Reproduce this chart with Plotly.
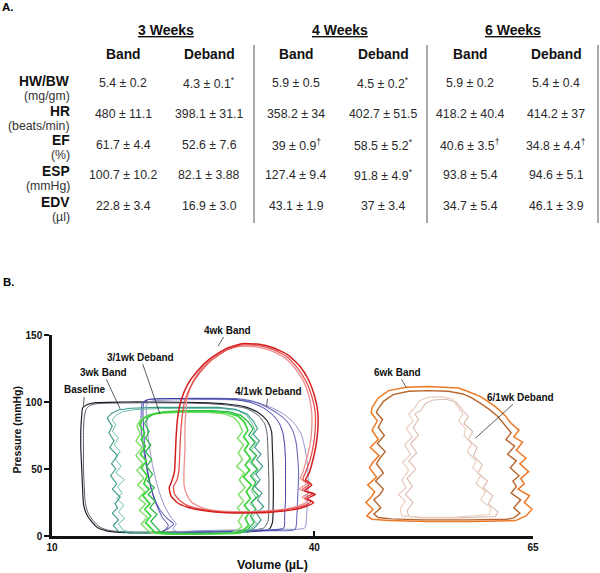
import plotly.graph_objects as go

# ---------------- Panel A: table values ----------------
periods = ["3 Weeks", "4 Weeks", "6 Weeks"]
groups = ["Band", "Deband"]
row_names = ["HW/BW", "HR", "EF", "ESP", "EDV"]
row_units = ["(mg/gm)", "(beats/min)", "(%)", "(mmHg)", "(µl)"]

band_3wk = ["5.4 ± 0.2", "480 ± 11.1", "61.7 ± 4.4", "100.7 ± 10.2", "22.8 ± 3.4"]
deband_3wk = ["4.3 ± 0.1", "398.1 ± 31.1", "52.6 ± 7.6", "82.1 ± 3.88", "16.9 ± 3.0"]
band_4wk = ["5.9 ± 0.5", "358.2 ± 34", "39 ± 0.9", "127.4 ± 9.4", "43.1 ± 1.9"]
deband_4wk = ["4.5 ± 0.2", "402.7 ± 51.5", "58.5 ± 5.2", "91.8 ± 4.9", "37 ± 3.4"]
band_6wk = ["5.9 ± 0.2", "418.2 ± 40.4", "40.6 ± 3.5", "93.8 ± 5.4", "34.7 ± 5.4"]
deband_6wk = ["5.4 ± 0.4", "414.2 ± 37", "34.8 ± 4.4", "94.6 ± 5.1", "46.1 ± 3.9"]

marks_band_3wk = ["", "", "", "", ""]
marks_deband_3wk = ["*", "", "", "", ""]
marks_band_4wk = ["", "", "†", "", ""]
marks_deband_4wk = ["*", "", "*", "*", ""]
marks_band_6wk = ["", "", "†", "", ""]
marks_deband_6wk = ["", "", "†", "", ""]

# ---------------- Panel B: pressure-volume loops, (volume µL, pressure mmHg) ----------------
baseline_c1 = [(15.0, 99.5), (18.0, 100), (22.0, 100), (27.0, 99.5), (30.0, 98.5), (32.0, 96.5), (33.6, 92), (34.6, 86), (35.1, 78), (35.2, 65), (35.3, 45), (35.3, 25), (35.2, 10), (34.8, 5), (33.0, 3.5), (30.0, 3), (26.0, 2.5), (22.0, 2.3), (18.5, 2.5), (16.5, 3.5), (15.3, 6), (14.5, 11), (13.9, 17), (13.6, 24), (13.5, 35), (13.4, 50), (13.3, 65), (13.3, 80), (13.4, 90), (13.5, 95.5), (14.0, 98), (15.0, 99.5)]
baseline_c2 = [(15.2, 98.8), (18.0, 99.3), (22.0, 99.4), (27.0, 99.0), (30.0, 97.8), (32.2, 95.2), (33.5, 90.5), (34.3, 84), (34.6, 76), (34.7, 62), (34.8, 42), (34.8, 24), (34.7, 11), (34.2, 6), (32.5, 4.2), (29.0, 3.5), (25.0, 3.2), (21.0, 3.0), (18.0, 3.2), (16.5, 4.2), (15.5, 6.5), (14.7, 11.5), (14.1, 17.5), (13.8, 25), (13.7, 36), (13.6, 50), (13.6, 65), (13.6, 80), (13.7, 89), (13.9, 94.5), (14.3, 97.3), (15.2, 98.8)]

band3_c1 = [(16.3, 88), (16.8, 91.5), (17.6, 94), (19.0, 95.3), (22.0, 96), (26.0, 96.3), (29.0, 96), (31.0, 94.5), (32.3, 91), (33.0, 86),
            (33.5, 80), (33.0, 76), (33.7, 71), (33.2, 66), (33.9, 61), (33.4, 57), (34.1, 52), (33.3, 46), (33.8, 42), (33.2, 37), (34.0, 32), (33.5, 27), (34.2, 22), (33.4, 17), (33.9, 12), (33.3, 7), (32.5, 3),
            (28.0, 1.8), (23.0, 1.8), (19.0, 2.2), (17.6, 3.5),
            (17.0, 8), (17.6, 12), (16.9, 17), (17.5, 21), (17.2, 24), (17.8, 29), (16.9, 35), (17.4, 39), (16.7, 45), (17.3, 50), (16.8, 54), (17.5, 60), (16.6, 66), (17.1, 71), (16.5, 77), (16.9, 82), (16.3, 88)]
band3_c2 = [(16.9, 86.5), (17.3, 90), (18.1, 92.8), (19.5, 94.3), (22.5, 95.2), (26.5, 95.5), (29.3, 95.2), (31.2, 93.8), (32.2, 90.5), (32.8, 85),
            (33.2, 79), (32.7, 74), (33.4, 70), (32.8, 64), (33.3, 60), (32.6, 55), (33.5, 49), (32.9, 44), (33.6, 40), (32.8, 34), (33.3, 29), (32.6, 24), (33.5, 19), (32.9, 14), (33.4, 9), (32.6, 5), (32.0, 3),
            (28.0, 2.2), (23.5, 2.0), (19.5, 2.5), (18.2, 4),
            (17.6, 9), (18.3, 13), (17.6, 18), (18.2, 23), (17.4, 28), (18.0, 32), (17.5, 37), (18.3, 42), (17.3, 47), (17.9, 52), (17.2, 58), (17.8, 63), (17.1, 68), (17.6, 73), (16.9, 78), (17.3, 83), (16.9, 86.5)]

deband3_c1 = [(20.0, 83), (20.4, 87.5), (21.2, 90.5), (22.6, 92.2), (25.0, 93), (28.0, 93), (30.0, 92), (31.3, 89.5), (32.0, 85), (32.4, 79),
              (31.9, 74), (32.5, 69), (32.0, 64), (32.7, 58), (32.1, 53), (32.6, 49), (31.9, 44), (32.8, 38), (32.2, 33), (32.7, 28), (32.0, 23), (32.6, 18), (32.1, 13), (32.5, 8), (31.8, 4), (31.0, 2),
              (27.0, 1.5), (23.5, 1.5), (21.8, 2.5),
              (21.3, 6), (20.7, 10), (21.3, 15), (20.6, 20), (21.2, 24), (20.4, 30), (21.1, 35), (20.5, 39), (20.9, 45), (20.2, 51), (20.8, 56), (20.1, 61), (20.7, 67), (20.2, 72), (20.6, 77), (20.0, 83)]
deband3_c2 = [(19.7, 82), (20.1, 86.5), (20.9, 89.8), (22.3, 91.6), (24.8, 92.4), (27.8, 92.4), (29.6, 91.3), (30.8, 88.5), (31.4, 84), (31.8, 78),
              (31.2, 73), (31.9, 68), (31.3, 62), (31.8, 57), (31.1, 52), (32.0, 47), (31.4, 42), (32.1, 36), (31.3, 31), (31.9, 26), (31.2, 21), (31.8, 16), (31.3, 11), (31.7, 7), (31.0, 3.5), (30.4, 2),
              (27.0, 1.3), (23.0, 1.3), (21.4, 2.2),
              (20.8, 5), (20.2, 9), (20.9, 14), (20.0, 19), (20.7, 24), (19.9, 28), (20.6, 33), (19.8, 38), (20.5, 43), (19.7, 49), (20.4, 54), (19.6, 60), (20.3, 66), (19.6, 71), (20.1, 76), (19.7, 82)]
deband3_c3 = [(20.6, 84), (21.0, 88.5), (21.7, 91.3), (23.0, 92.8), (25.3, 93.6), (28.3, 93.6), (30.3, 92.6), (31.6, 90), (32.4, 85.5), (33.0, 80),
              (32.5, 75), (33.2, 70), (32.6, 65), (33.4, 60), (32.8, 55), (33.5, 50), (32.7, 45), (33.3, 40), (32.9, 35), (33.6, 30), (32.8, 25), (33.3, 20), (32.7, 15), (33.1, 10), (32.4, 5), (31.5, 2.2),
              (27.5, 1.8), (24.0, 1.8), (22.4, 3),
              (21.9, 7), (21.3, 11), (22.0, 16), (21.2, 21), (21.8, 26), (21.0, 31), (21.7, 36), (20.9, 41), (21.5, 46), (20.8, 52), (21.4, 57), (20.7, 63), (21.3, 68), (20.7, 73), (21.1, 78), (20.6, 84)]

deband4_c1 = [(20.3, 99), (20.8, 101.5), (23.0, 102.5), (26.0, 102.8), (29.0, 102.8), (31.0, 102.5), (33.0, 100.5), (34.5, 96.5), (35.8, 91.5), (36.8, 86), (37.5, 79), (37.9, 70), (38.1, 58), (38.2, 45), (38.1, 30), (38.0, 15), (37.8, 5), (35.0, 4), (30.0, 3.5), (26.0, 3), (23.5, 2.5), (22.6, 3), (23.4, 6), (23.9, 9), (23.2, 13), (22.3, 20), (21.6, 30), (21.1, 42), (20.7, 55), (20.4, 68), (20.2, 80), (20.2, 92), (20.3, 99)]
deband4_c2 = [(20.8, 98), (21.3, 100.5), (23.5, 101.5), (26.5, 101.8), (29.5, 101.8), (31.5, 101.3), (33.5, 99.5), (35.2, 95.5), (36.6, 90.5), (37.7, 84), (38.5, 76), (38.9, 66), (39.2, 54), (39.3, 40), (39.2, 26), (39.1, 14), (38.9, 6), (36.0, 5), (31.0, 4.5), (27.0, 4), (24.3, 3.5), (23.8, 5), (24.2, 9), (23.6, 14), (22.9, 22), (22.3, 32), (21.8, 44), (21.4, 56), (21.1, 68), (20.9, 80), (20.8, 92), (20.8, 98)]
deband4_c3 = [(20.5, 99.5), (21.0, 101.8), (23.0, 102.5), (26.0, 102.5), (29.0, 102.3), (31.0, 101.8), (32.8, 99.5), (34.2, 95.5), (35.3, 90), (36.0, 84), (36.4, 77), (36.6, 68), (36.7, 56), (36.7, 42), (36.7, 28), (36.6, 15), (36.5, 6), (34.0, 4), (30.0, 3), (26.0, 2.5), (23.0, 2), (22.4, 2.5), (23.0, 5), (23.3, 8), (22.6, 14), (21.9, 24), (21.3, 36), (20.9, 50), (20.6, 64), (20.5, 78), (20.4, 91), (20.5, 99.5)]

band4_c1 = [(31.7, 143.5), (33.5, 143.2), (35.3, 140.5), (37.0, 135), (38.3, 127), (39.3, 117), (40.0, 105), (40.4, 92), (40.4, 80), (40.2, 68), (39.8, 56), (39.4, 47), (39.0, 42), (39.7, 38), (38.9, 34), (40.1, 31), (39.2, 28), (39.9, 25), (39.0, 22), (37.5, 19.5), (35.0, 17.8), (32.0, 17.2), (29.5, 17.5), (27.3, 19), (25.5, 21.5), (24.3, 25), (23.6, 30), (23.4, 36), (23.7, 41), (24.0, 48), (24.1, 60), (24.2, 75), (24.4, 90), (24.8, 102), (25.5, 113), (26.6, 123), (28.0, 132), (29.8, 139.5), (31.7, 143.5)]
band4_c2 = [(31.5, 141.5), (33.3, 141.2), (35.0, 138.5), (36.6, 133), (37.8, 125), (38.8, 115), (39.4, 104), (39.7, 92), (39.7, 80), (39.5, 68), (39.1, 57), (38.7, 48), (38.4, 43), (39.1, 39), (38.3, 35), (39.4, 32), (38.6, 29), (39.2, 26), (38.4, 23), (37.0, 20.5), (34.5, 18.8), (31.5, 18.2), (29.0, 18.8), (27.2, 21), (26.0, 25), (25.4, 31), (25.1, 38), (25.1, 50), (25.2, 65), (25.2, 80), (25.3, 93), (25.5, 104), (26.1, 115), (27.1, 125), (28.4, 133), (30.0, 139), (31.5, 141.5)]
band4_c3 = [(31.6, 142.5), (33.4, 142.2), (35.2, 139.5), (36.8, 134), (38.0, 126), (39.0, 116), (39.7, 104.5), (40.1, 92), (40.1, 80), (39.9, 68), (39.5, 56.5), (39.0, 47.5), (38.7, 42.5), (39.4, 38.5), (38.6, 34.5), (39.8, 31.5), (38.9, 28.5), (39.6, 25.5), (38.7, 22.5), (37.2, 20), (34.8, 18.3), (31.8, 17.7), (29.2, 18), (27.2, 19.8), (25.6, 22.5), (24.6, 26.5), (24.0, 31.5), (23.9, 37), (24.3, 42), (24.5, 48), (24.6, 60), (24.7, 75), (24.9, 90), (25.2, 101), (25.9, 112), (26.9, 122), (28.2, 131), (29.9, 138.5), (31.6, 142.5)]

band6_c1 = [(46.6, 96), (47.3, 103), (48.5, 108.5), (50.5, 111), (53.0, 111.5), (55.5, 111), (56.5, 110.5), (57.5, 108), (58.3, 106), (59.0, 104), (59.7, 101), (60.8, 96), (61.8, 90), (62.5, 84),
            (63.4, 79), (62.8, 74), (63.8, 70), (63.1, 64), (64.2, 58), (63.5, 54), (64.5, 48), (63.6, 43), (64.0, 39), (63.3, 35), (64.6, 30), (64.0, 25), (64.9, 20), (64.2, 15), (63.0, 11.5),
            (58.0, 10.8), (53.0, 10.8), (48.5, 11.5), (46.6, 12.5),
            (46.0, 15), (46.7, 20), (45.9, 25), (46.5, 29), (46.9, 33), (46.1, 38), (47.1, 44), (46.3, 51), (46.7, 55), (47.4, 60), (46.4, 66), (47.3, 72), (46.6, 79), (47.2, 86), (46.5, 92), (46.6, 96)]
band6_c2 = [(47.2, 94), (47.9, 100.5), (49.0, 105.5), (50.8, 108), (53.0, 108.5), (55.3, 108), (57.0, 106), (58.0, 103), (59.0, 99), (60.0, 94.5), (61.0, 89), (61.7, 83),
            (62.5, 77), (61.9, 72), (62.9, 67), (62.1, 61), (63.1, 56), (62.4, 51), (63.4, 45), (62.7, 41), (63.1, 37), (62.5, 32), (63.6, 27), (62.8, 21), (63.5, 17), (62.8, 13.5), (62.0, 12.5),
            (57.5, 12), (52.5, 12), (48.8, 12.8), (47.3, 13.8),
            (46.8, 16.5), (47.6, 21), (46.8, 27), (47.5, 31), (47.9, 35), (47.0, 41), (47.9, 47), (47.1, 54), (47.5, 58), (48.1, 63), (47.2, 69), (48.0, 75), (47.3, 81), (47.8, 87), (47.1, 92), (47.2, 94)]

deband6_c1 = [(51.5, 96), (52.0, 101), (53.0, 103.5), (54.5, 104), (55.8, 102), (56.3, 97),
              (57.0, 91), (56.5, 86), (57.3, 80), (57.1, 75), (58.0, 69), (57.5, 63), (58.5, 56), (58.1, 51), (59.0, 45), (58.5, 39), (59.6, 33), (59.0, 27), (60.2, 21), (60.0, 16),
              (56.0, 14), (52.0, 14), (50.0, 15),
              (49.8, 20), (50.4, 26), (49.6, 31), (50.5, 36), (50.0, 42), (50.8, 49), (50.1, 55), (51.0, 61), (50.3, 68), (51.2, 74), (50.5, 80), (51.3, 86), (50.8, 91), (51.5, 96)]
deband6_c2 = [(52.2, 94), (52.7, 99), (53.6, 101.5), (55.0, 102), (56.2, 100), (56.8, 95),
              (57.6, 89), (57.1, 84), (58.1, 78), (57.6, 72), (58.6, 66), (58.2, 60), (59.2, 53), (58.7, 47), (59.8, 41), (59.3, 36), (60.4, 30), (59.9, 24), (61.0, 18), (60.7, 14.5),
              (56.5, 13.5), (52.5, 13.5), (50.8, 14.5),
              (50.6, 19), (51.3, 25), (50.4, 31), (51.2, 37), (50.6, 43), (51.6, 50), (50.8, 56), (51.7, 62), (51.0, 69), (51.9, 75), (51.3, 81), (51.9, 87), (51.5, 91), (52.2, 94)]

x_ticks = [10, 40, 65]
y_ticks = [0, 50, 100, 150]

# ---------------- geometry helpers ----------------
W, H = 600, 573
ML, MR, MT, MB = 52, 67, 335, 37
PW, PH = W - ML - MR, H - MT - MB


def fx(px):
    return (px - ML) / PW


def fy(py):
    return (H - MB - py) / PH


ARIAL = "Arial, Liberation Sans, sans-serif"
NARROW = "Liberation Sans Narrow, Arial Narrow, Arial, sans-serif"

fig = go.Figure()

# (points, color, width, shape, smoothing)
loops = [
    (baseline_c2, "#5a5a66", 1.0, "spline", 0.6),
    (baseline_c1, "#22222e", 1.2, "spline", 0.6),
    (deband4_c2, "#9090cc", 1.0, "spline", 0.6),
    (deband4_c1, "#6a6abb", 1.1, "spline", 0.6),
    (deband4_c3, "#3a3aa8", 1.0, "spline", 0.6),
    (band3_c2, "#6cc0a8", 1.0, "linear", 0),
    (band3_c1, "#3a9a88", 1.1, "linear", 0),
    (deband3_c2, "#86e070", 1.5, "linear", 0),
    (deband3_c3, "#2fb84a", 1.3, "linear", 0),
    (deband3_c1, "#3ad43a", 1.7, "linear", 0),
    (band4_c2, "#f09090", 1.3, "spline", 0.5),
    (band4_c3, "#e45050", 1.3, "spline", 0.5),
    (band4_c1, "#d41e1e", 1.5, "spline", 0.5),
    (deband6_c2, "#dcbcb0", 1.1, "linear", 0),
    (deband6_c1, "#ebcbbb", 1.1, "linear", 0),
    (band6_c2, "#b8662e", 1.4, "linear", 0),
    (band6_c1, "#ec7a26", 1.5, "linear", 0),
]
for pts, c, w, shp, s in loops:
    v = [a for a, _ in pts]
    p = [b for _, b in pts]
    line = dict(color=c, width=w, shape=shp)
    if shp == "spline":
        line["smoothing"] = s
    fig.add_trace(go.Scatter(x=v, y=p, mode="lines", line=line,
                             hoverinfo="skip", showlegend=False))

annotations = []
shapes = []


def txt(px, py, s, size, color="#111", xanchor="center", family=ARIAL):
    annotations.append(dict(x=fx(px), y=fy(py), xref="paper", yref="paper", text=s,
                            showarrow=False, xanchor=xanchor, yanchor="middle",
                            font=dict(family=family, size=size, color=color)))


# panel letters
txt(0, 7, "<b>A.</b>", 11.5, "#000", "left")
txt(1, 282, "<b>B.</b>", 11.5, "#000", "left")

# table headers
period_px = [166, 340, 513]
col_px = [123, 209, 296, 383, 470, 556]
for pname, cx in zip(periods, period_px):
    txt(cx, 30, "<b><u>" + pname + "</u></b>", 14, "#111")
for i, cx in enumerate(col_px):
    txt(cx, 54, "<b>" + groups[i % 2] + "</b>", 13.8, "#111")

row_label_py = [81, 111, 140, 171, 202]
row_unit_py = [96, 126, 155, 186, 217]
row_val_py = [83, 114, 145, 175, 206]
for name, unit, ly, uy in zip(row_names, row_units, row_label_py, row_unit_py):
    txt(72, ly, "<b>" + name + "</b>", 13.8, "#111", "right")
    txt(72, uy, unit, 12.3, "#333", "right")

columns = [(band_3wk, marks_band_3wk), (deband_3wk, marks_deband_3wk),
           (band_4wk, marks_band_4wk), (deband_4wk, marks_deband_4wk),
           (band_6wk, marks_band_6wk), (deband_6wk, marks_deband_6wk)]
for (vals, marks), cx in zip(columns, col_px):
    for val, mk, vy in zip(vals, marks, row_val_py):
        s = val + ("<sup>" + mk + "</sup>" if mk else "")
        txt(cx, vy, s, 12.3, "#2a2a2a")

for lx in [254, 427, 598]:
    shapes.append(dict(type="line", xref="paper", yref="paper", x0=fx(lx), x1=fx(lx),
                       y0=fy(45), y1=fy(223), line=dict(color="#555", width=1)))

# loop call-out labels: (text, text_x, text_y, tip_x, tip_y) in data units
callouts = [
    ("Baseline", 13.75, 109.0, 13.6, 97.0),
    ("3wk Band", 15.85, 122.0, 17.8, 94.8),
    ("3/1wk Deband", 20.1, 133.5, 22.35, 91.0),
    ("4wk Band", 30.1, 153.7, 29.0, 141.8),
    ("4/1wk Deband", 34.7, 107.7, 34.55, 96.5),
    ("6wk Band", 49.5, 122.1, 50.5, 111.0),
    ("6/1wk Deband", 63.6, 103.5, 58.4, 72.9),
]
for t, tx, ty, ax_, ay_ in callouts:
    annotations.append(dict(x=ax_, y=ay_, xref="x", yref="y", ax=tx, ay=ty, axref="x", ayref="y",
                            text="<b>" + t + "</b>", showarrow=True, arrowhead=0, arrowwidth=0.8,
                            arrowcolor="#333", font=dict(family=NARROW, size=10, color="#111")))

# axis titles
annotations.append(dict(x=fx(16.5), y=fy(430), xref="paper", yref="paper", text="<b>Pressure (mmHg)</b>",
                        showarrow=False, textangle=-90, xanchor="center", yanchor="middle",
                        font=dict(family=NARROW, size=10.5, color="#111")))
annotations.append(dict(x=fx(272), y=fy(565), xref="paper", yref="paper", text="<b>Volume (µL)</b>",
                        showarrow=False, xanchor="center", yanchor="middle",
                        font=dict(family=NARROW, size=12.5, color="#111")))

fig.update_layout(
    width=W, height=H,
    margin=dict(l=ML, r=MR, t=MT, b=MB, pad=0),
    paper_bgcolor="white", plot_bgcolor="white",
    annotations=annotations, shapes=shapes,
    xaxis=dict(range=[10, 65], tickvals=x_ticks, ticktext=[str(t) for t in x_ticks],
               showline=True, linewidth=2.5, linecolor="#111", ticks="inside", ticklen=5,
               tickwidth=1.5, tickcolor="#111", showgrid=False, zeroline=False,
               tickfont=dict(family=NARROW, size=10, color="#111", weight="bold")),
    yaxis=dict(range=[0, 150], tickvals=y_ticks, showline=True, linewidth=2.5, linecolor="#111",
               ticks="outside", ticklen=5, tickwidth=1.5, tickcolor="#111", showgrid=False,
               zeroline=False, tickfont=dict(family=NARROW, size=10, color="#111", weight="bold")),
    showlegend=False,
)

fig.write_html("out.html", config={"displayModeBar": False},
               post_script="document.body.style.margin='0';document.body.style.padding='0';")
